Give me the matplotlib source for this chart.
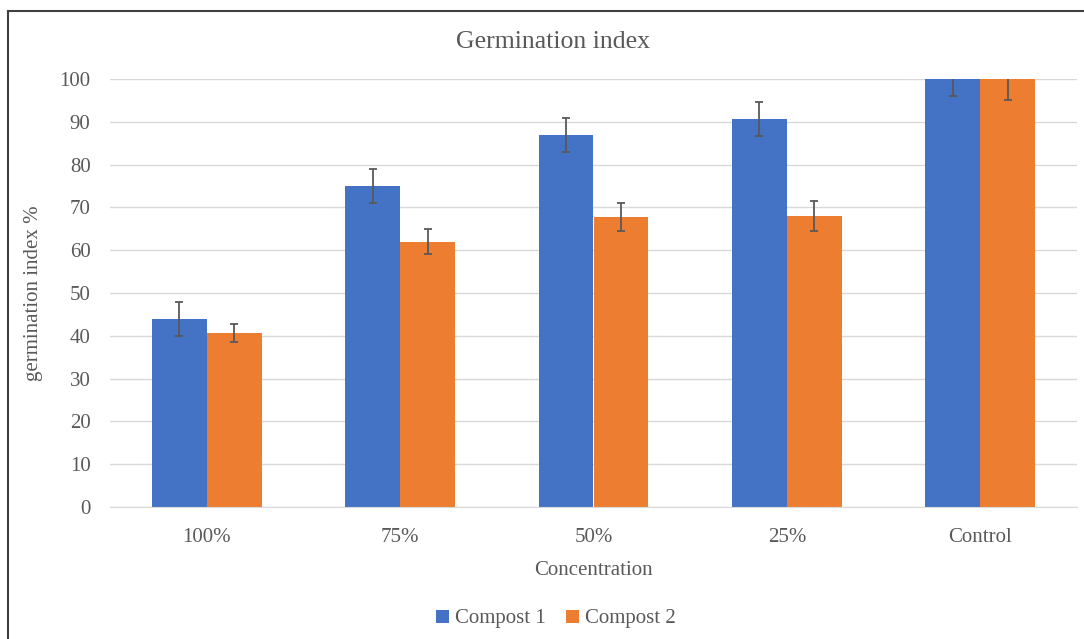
import numpy as np
import matplotlib.pyplot as plt
from matplotlib.lines import Line2D

categories = ["100%", "75%", "50%", "25%", "Control"]
compost1 = [44, 75, 87, 90.7, 100]
compost2 = [40.6, 62, 67.8, 68, 100]
err1 = [4, 4, 4, 4, 4]
err2 = [2.1, 3, 3.3, 3.4, 5]

blue = "#4472C4"
orange = "#ED7D31"
grey = "#595959"

plt.rcParams['font.family'] = ['Liberation Serif', 'DejaVu Serif']

fig = plt.figure(figsize=(10.84, 6.39), dpi=100)
ax = fig.add_axes([110 / 1084, 1 - 507 / 639, (1077 - 110) / 1084, (507 - 79) / 639])

x = np.arange(len(categories))
w = 0.284
ekw = dict(ecolor=grey, elinewidth=1.3, capsize=3, capthick=1.3)
ax.bar(x - w / 2, compost1, w, color=blue, label="Compost 1", yerr=err1, error_kw=ekw, zorder=2)
ax.bar(x + w / 2, compost2, w, color=orange, label="Compost 2", yerr=err2, error_kw=ekw, zorder=2)

ax.set_xlim(-0.5, len(categories) - 0.5)
ax.set_ylim(0, 100)
ax.set_yticks(range(0, 101, 10))
ax.set_xticks(x)
ax.set_xticklabels(categories)
ax.yaxis.grid(True, color="#D9D9D9", linewidth=1)
ax.set_axisbelow(True)
for s in ["top", "right", "left"]:
    ax.spines[s].set_visible(False)
ax.spines["bottom"].set_color("#D9D9D9")
ax.tick_params(axis="both", length=0, labelsize=15, colors=grey, pad=15)
ax.tick_params(axis="y", pad=14)

# title sits centred on the whole chart box, not the plot area
fig.text(553 / 1084, 1 - 42 / 639, "Germination index", fontsize=18.5, color=grey,
         ha="center", va="center")
ax.set_ylabel("germination index %", fontsize=15, color=grey, labelpad=12)
ax.set_xlabel("Concentration", fontsize=15, color=grey, labelpad=10)

fig.legend(loc="center", bbox_to_anchor=(556 / 1084, 1 - 619 / 639), ncol=2, frameon=False,
           fontsize=15, handlelength=0.6, handleheight=0.6, handletextpad=0.3,
           columnspacing=1.0, labelcolor=grey)

fig.add_artist(Line2D([8 / 1084, 8 / 1084], [0, 1 - 11 / 639], color="#404040", lw=1.5))
fig.add_artist(Line2D([8 / 1084, 1], [1 - 11 / 639, 1 - 11 / 639], color="#404040", lw=1.5))

fig.savefig("out.png", dpi=100)
